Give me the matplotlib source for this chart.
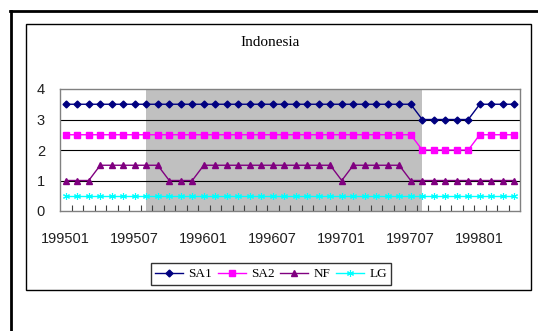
import matplotlib.pyplot as plt
from matplotlib.lines import Line2D
from matplotlib.patches import Rectangle

# Monthly series, 199501 - 199804
months = [f"{y}{m:02d}" for y in (1995, 1996, 1997, 1998) for m in range(1, 13)][:40]
sa1 = [3.5] * 31 + [3] * 5 + [3.5] * 4
sa2 = [2.5] * 31 + [2] * 5 + [2.5] * 4
nf = [1] * 3 + [1.5] * 6 + [1] * 3 + [1.5] * 12 + [1] + [1.5] * 5 + [1] * 10
lg = [0.5] * 40
shade_start, shade_end = 7, 31

W, H = 538, 331
fig = plt.figure(figsize=(W / 100, H / 100), dpi=100)


def fx(px):
    return px / W


def fy(py):
    return 1 - py / H


# outer frame (top and left) and chart box
fig.add_artist(Line2D([fx(10), fx(538)], [fy(11), fy(11)], color='black', lw=2))
fig.add_artist(Line2D([fx(11), fx(11)], [fy(11), fy(331)], color='black', lw=2))
fig.add_artist(Rectangle((fx(26), fy(290)), fx(531) - fx(26), fy(24) - fy(290),
                         fill=False, edgecolor='black', lw=1, transform=fig.transFigure))

ax = fig.add_axes([fx(60), fy(211), fx(520) - fx(60), fy(89) - fy(211)])
x = list(range(len(months)))

ax.axvspan(shade_start, shade_end, color='#C0C0C0', lw=0, zorder=0)
for yv in (1, 2, 3):
    ax.axhline(yv, color='black', lw=0.8, zorder=1)

ax.plot(x, sa1, color='#000080', marker='D', ms=3.5, lw=1, label='SA1', zorder=3)
ax.plot(x, sa2, color='#FF00FF', marker='s', ms=4.5, lw=1, label='SA2', zorder=3)
ax.plot(x, nf, color='#800080', marker='^', ms=5, lw=1, label='NF', zorder=3)
ax.plot(x, lg, color='#00FFFF', marker=(6, 2, 0), ms=5, mew=0.8, lw=1, label='LG', zorder=3)

ax.set_xlim(-0.5, len(months) - 0.5)
ax.set_ylim(0, 4)
ax.set_yticks([0, 1, 2, 3, 4])
ax.set_xticks(x[::6])
ax.set_xticklabels(months[::6])
ax.set_xticks([i - 0.5 for i in range(1, len(months))], minor=True)
ax.tick_params(axis='x', which='major', length=0, pad=15)
ax.tick_params(axis='x', which='minor', direction='in', length=4, width=0.8, color='#404040')
ax.tick_params(axis='y', length=0, pad=10.8)
for lab in ax.get_xticklabels() + ax.get_yticklabels():
    lab.set_fontfamily('Liberation Sans')
    lab.set_fontsize(10.5)
    lab.set_color('#202020')
for s in ax.spines.values():
    s.set_color('#808080')
    s.set_linewidth(1)

fig.text(fx(270), fy(43), 'Indonesia', ha='center', va='center',
         family='Liberation Serif', fontsize=11)

leg = fig.legend(loc='center', bbox_to_anchor=(fx(271), fy(274)), ncol=4,
                 prop={'family': 'Liberation Serif', 'size': 9.5},
                 frameon=True, fancybox=False, edgecolor='black',
                 handlelength=2.1, handletextpad=0.4, columnspacing=0.45,
                 borderpad=0.35, borderaxespad=0)
leg.get_frame().set_linewidth(1)

fig.savefig('out.png', dpi=100)
